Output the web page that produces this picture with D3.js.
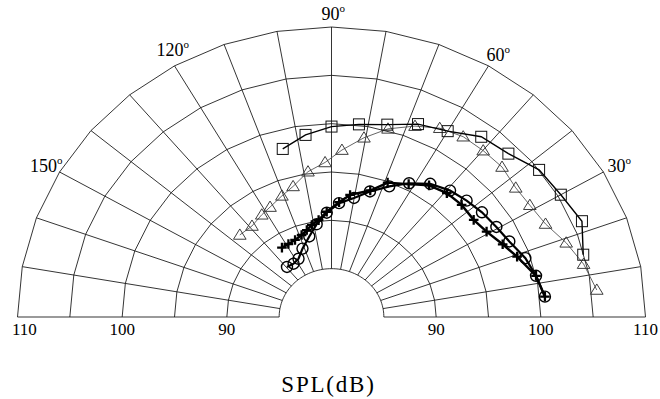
<!DOCTYPE html>
<html>
<head>
<meta charset="utf-8">
<script src="https://cdn.jsdelivr.net/npm/d3@7/dist/d3.min.js"></script>
<style>
  html, body { margin: 0; padding: 0; background: #fff; }
  svg { display: block; }
  text { font-family: "Liberation Serif", "DejaVu Serif", serif; fill: #000; }
</style>
</head>
<body>
<svg id="chart" width="660" height="399"></svg>
<script>
// ---------------- data ----------------
const ringValues = [85, 90, 95, 100, 105, 110];
const spokeAngles = [0, 10, 20, 30, 40, 50, 60, 70, 80, 90, 100, 110, 120, 130, 140, 150, 160, 170, 180];
const angleTickLabels = [30, 60, 90, 120, 150];
const radialTickLabels = [90, 100, 110];
const axisTitle = "SPL(dB)";

const squareAngles = [15, 22.5, 30, 37.5, 45, 52.5, 60, 67.5, 75, 82.5, 90, 97.5, 105];
const squareSPL    = [104.9, 105.9, 105.3, 105.0, 103.9, 103.5, 102.2, 101.6, 100.6, 100.1, 99.7, 99.0, 98.0];

const triangleAngles = [6.3, 12.8, 18.9, 25.2, 31.4, 37.2, 43.6, 49.9, 56, 62.1, 68, 74.5, 80.5, 86.7, 92.2, 98.5, 105.2, 110.7, 117.3, 122.2, 128.9, 135.9];
const triangleSPL    = [105.5, 104.7, 103.7, 102.6, 102.2, 102.1, 102.5, 102.5, 102.5, 102.1, 101.3, 100.2, 98.8, 97.3, 96.0, 95.2, 94.0, 93.4, 92.8, 92.5, 92.1, 92.2];

const circleAngles = [5.9, 12.3, 18.2, 24.7, 30.6, 37, 43, 49.1, 55.6, 61.8, 67.8, 74.2, 80.1, 86.5, 92.4, 98.4, 104.3, 111.4, 117.6, 123.3, 129.4];
const circleSPL    = [100.5, 100.0, 99.5, 98.7, 98.3, 98.0, 97.65, 97.3, 96.7, 95.7, 94.6, 93.5, 92.5, 91.8, 90.8, 89.7, 88.6, 87.6, 86.8, 86.6, 86.7];

const plusAngles = [5.9, 12.3, 19.4, 24.7, 30.8, 36.5, 43, 49.3, 55.6, 61.8, 68.9, 74.2, 82, 86.5, 92.4, 97, 101.2, 104.7, 108.6, 113.6, 118.6, 123.4];
const plusSPL    = [100.5, 100.0, 98.8, 98.0, 97.25, 96.9, 97.0, 96.9, 96.5, 95.6, 94.9, 93.6, 92.75, 91.9, 90.9, 90.1, 89.7, 89.3, 88.95, 88.7, 88.6, 88.6];

// ---------------- layout ----------------
const svg = d3.select("#chart");
const cx = 331.5, cy = 317, R = 314, ky = 290 / 314;
const r = d3.scaleLinear().domain([80, 110]).range([0, R]);
const toRad = d3.scaleLinear().domain([0, 180]).range([0, Math.PI]);
function pt(angle, v) {
  const a = toRad(angle), rr = r(v);
  return [cx + rr * Math.cos(a), cy - rr * Math.sin(a) * ky];
}
const line = d3.line();

// grid rings (polygonal between spokes)
const grid = svg.append("g").attr("fill", "none").attr("stroke", "#111").attr("stroke-width", 0.85);
ringValues.forEach(v => {
  const step = v === 85 ? 2 : 10;
  const pts = d3.range(0, 180 + step / 2, step).map(a => pt(a, v));
  grid.append("path").attr("d", line(pts));
});
// spokes
spokeAngles.forEach(a => {
  grid.append("path").attr("d", line([pt(a, ringValues[0]), pt(a, ringValues[ringValues.length - 1])]));
});

// radial tick labels (both sides)
radialTickLabels.forEach(v => {
  [0, 180].forEach(a => {
    const p = pt(a, v);
    const t = svg.append("text").attr("x", p[0]).attr("y", cy + 18)
      .attr("text-anchor", "middle").attr("font-size", 17).text(v);
    const w = t.node().getComputedTextLength();
    if (p[0] - w / 2 < 12) t.attr("x", 12 + w / 2);
  });
});

// angle tick labels
angleTickLabels.forEach(a => {
  const p = pt(a, 110);
  let x = p[0], y = p[1], anchor = "start";
  if (a === 30) { x += 4; y += 0; }
  else if (a === 60) { x -= 2; y -= 5; }
  else if (a === 90) { x -= 10; y -= 7; }
  else if (a === 120) { x -= 18; y -= 10; }
  else if (a === 150) { x += 3; y += 0; anchor = "end"; }
  const t = svg.append("text").attr("x", x).attr("y", y).attr("text-anchor", anchor).attr("font-size", 18);
  t.append("tspan").text(a);
  t.append("tspan").attr("font-size", 11).attr("dy", -8).text("o");
});

// axis title
svg.append("text").attr("x", cx - 3).attr("y", 392).attr("text-anchor", "middle")
  .attr("font-size", 23).attr("letter-spacing", 1.8).text(axisTitle);

// ---------------- series ----------------
function seriesPts(angles, vals) { return angles.map((a, i) => pt(a, vals[i])); }

// triangles
const triPts = seriesPts(triangleAngles, triangleSPL);
svg.append("path").attr("d", line(triPts)).attr("fill", "none").attr("stroke", "#555").attr("stroke-width", 0.9);
svg.append("g").selectAll("path").data(triPts).join("path")
  .attr("d", d => `M${d[0]},${d[1] - 6}L${d[0] + 6.3},${d[1] + 4.3}L${d[0] - 6.3},${d[1] + 4.3}Z`)
  .attr("fill", "none").attr("stroke", "#333").attr("stroke-width", 0.95);

// squares
const sqPts = seriesPts(squareAngles, squareSPL);
svg.append("path").attr("d", line(sqPts)).attr("fill", "none").attr("stroke", "#000").attr("stroke-width", 1.4);
svg.append("g").selectAll("rect").data(sqPts).join("rect")
  .attr("x", d => d[0] - 5.5).attr("y", d => d[1] - 5.5).attr("width", 11).attr("height", 11)
  .attr("fill", "none").attr("stroke", "#111").attr("stroke-width", 1);

// circles
const cPts = seriesPts(circleAngles, circleSPL);
svg.append("path").attr("d", line(cPts)).attr("fill", "none").attr("stroke", "#000").attr("stroke-width", 2.2);
svg.append("g").selectAll("circle").data(cPts).join("circle")
  .attr("cx", d => d[0]).attr("cy", d => d[1]).attr("r", 5.5)
  .attr("fill", "none").attr("stroke", "#000").attr("stroke-width", 1.4);

// pluses
const pPts = seriesPts(plusAngles, plusSPL);
svg.append("path").attr("d", line(pPts)).attr("fill", "none").attr("stroke", "#000").attr("stroke-width", 2.4);
svg.append("g").selectAll("path").data(pPts).join("path")
  .attr("d", d => `M${d[0] - 4.8},${d[1]}H${d[0] + 4.8}M${d[0]},${d[1] - 4.8}V${d[1] + 4.8}`)
  .attr("fill", "none").attr("stroke", "#000").attr("stroke-width", 2.3);
</script>
</body>
</html>
